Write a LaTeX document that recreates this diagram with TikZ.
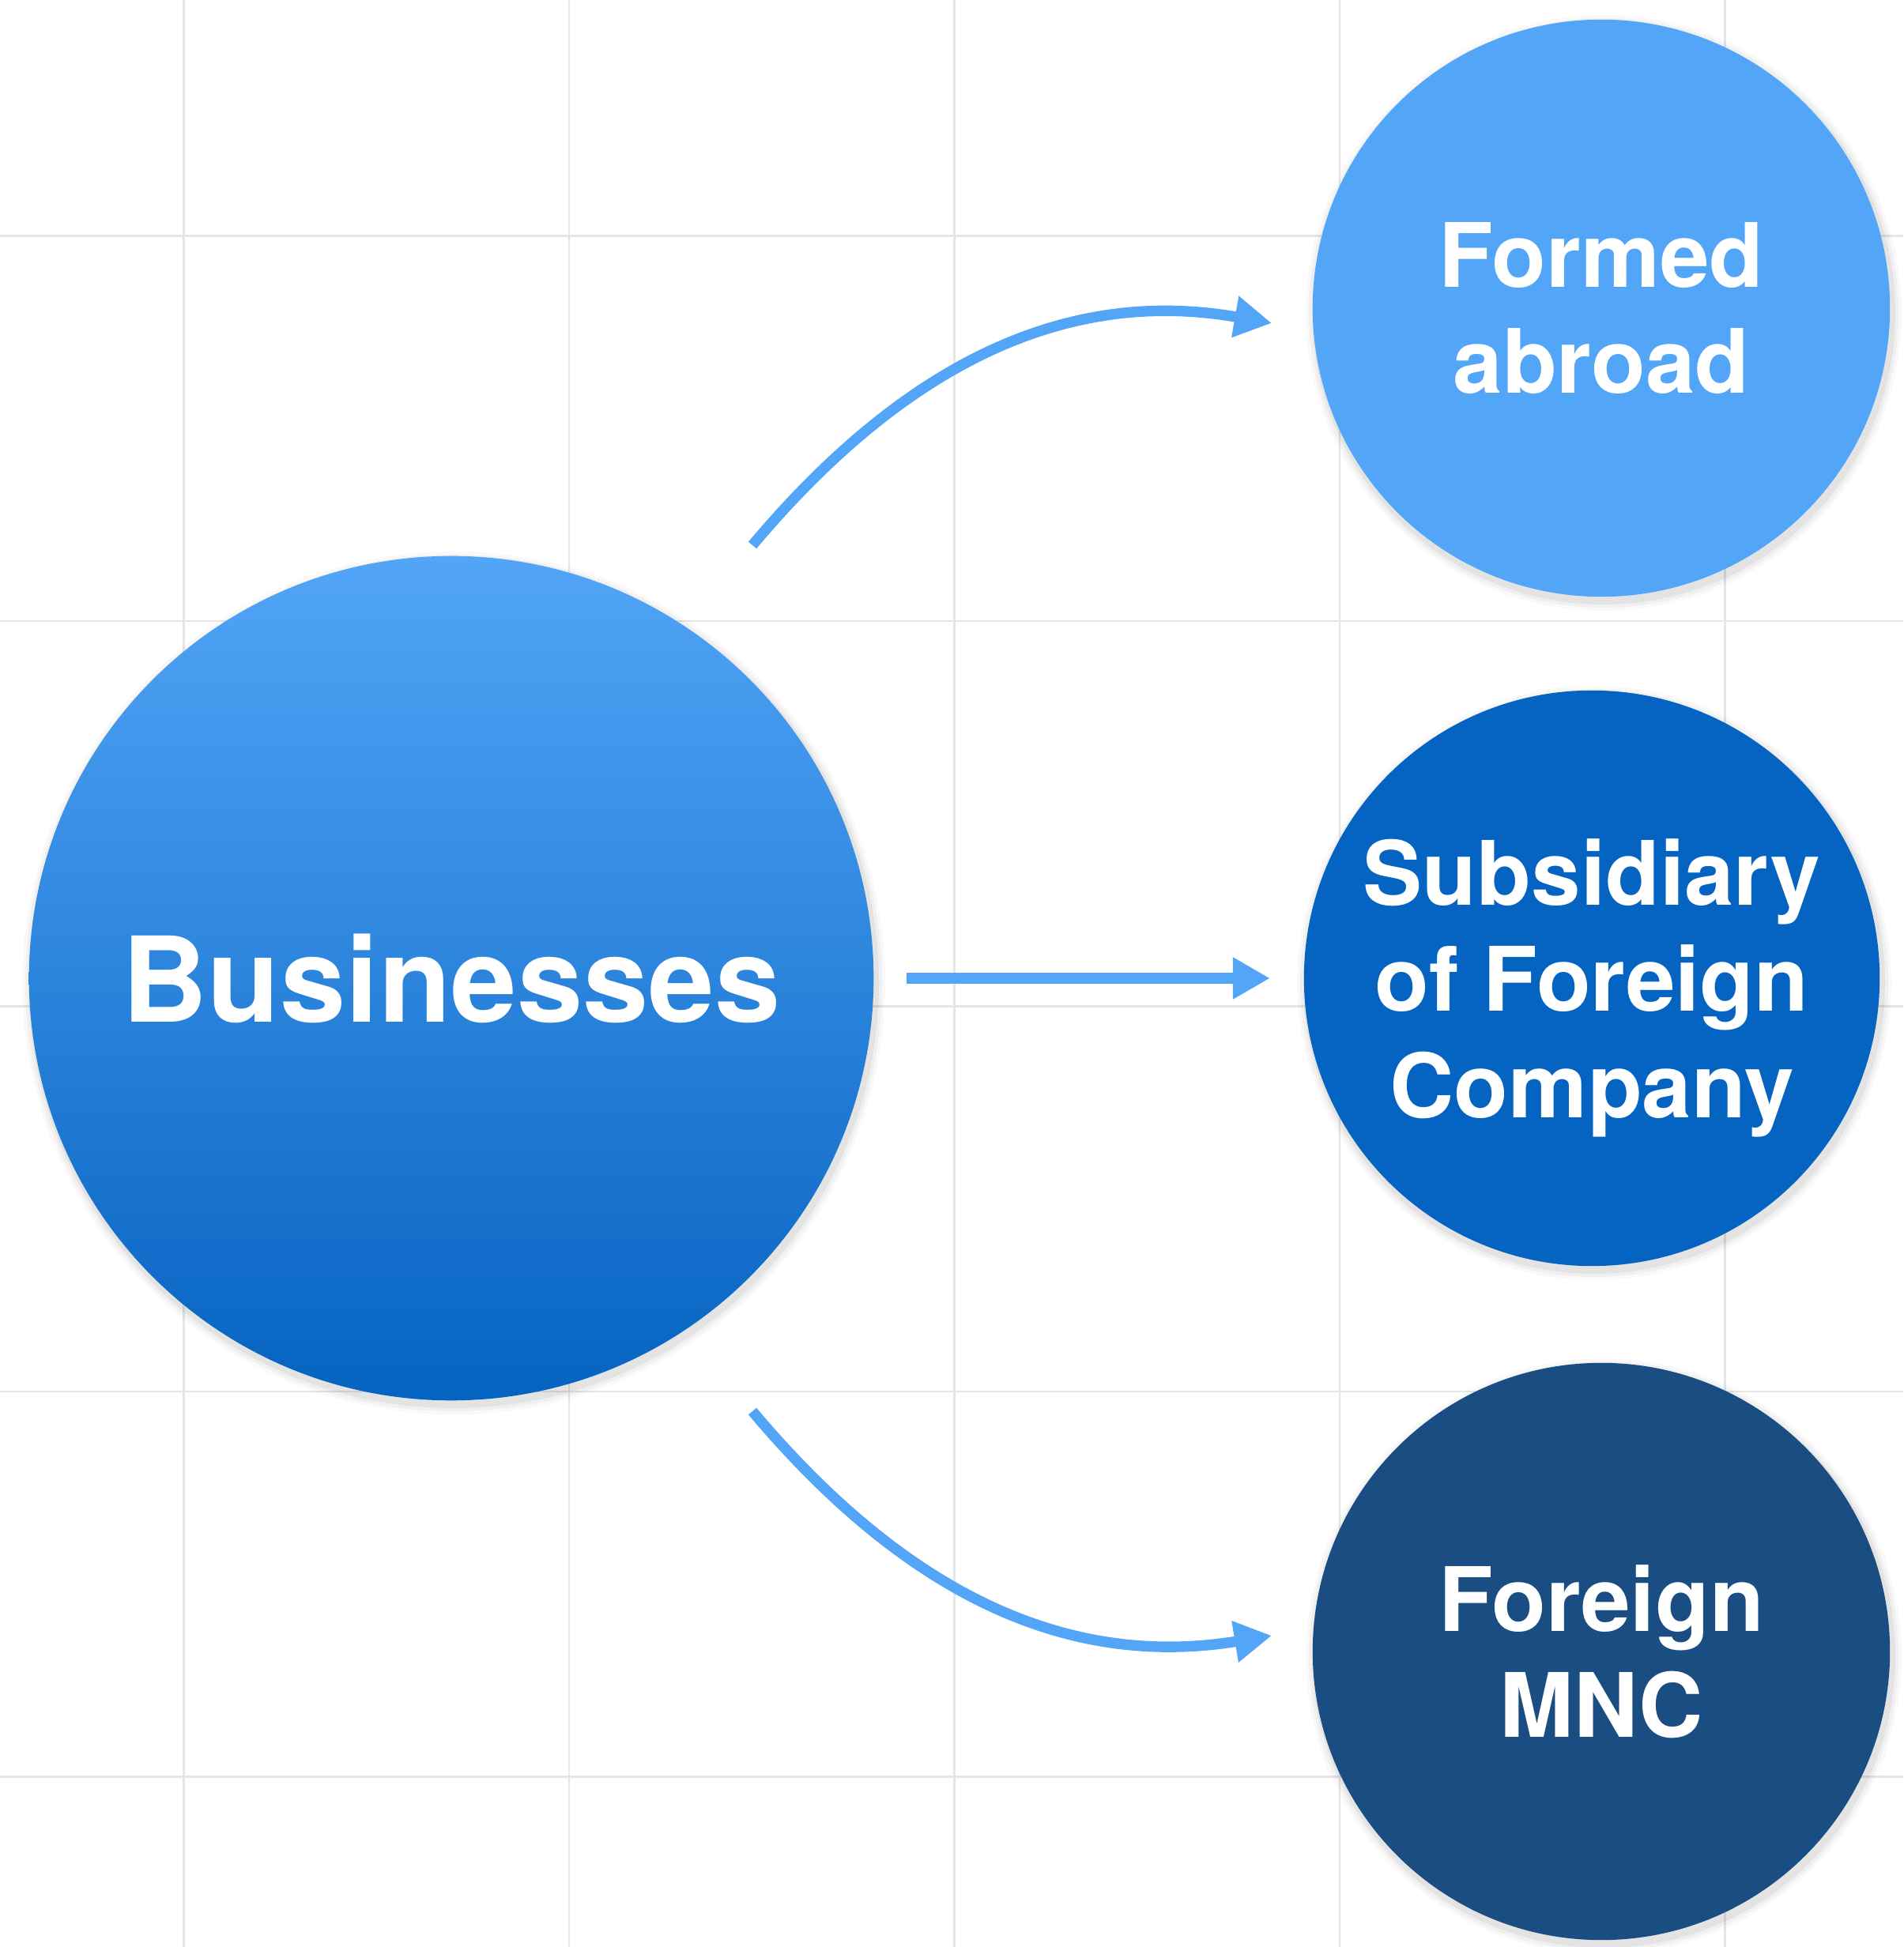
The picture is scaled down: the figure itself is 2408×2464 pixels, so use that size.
\documentclass[tikz,border=0pt]{standalone}
\usepackage{fontspec}
\setmainfont{TeX Gyre Heros}
\usetikzlibrary{arrows.meta,calc}
\definecolor{lightblue}{HTML}{52A5F7}
\definecolor{midblue}{HTML}{0563C1}
\definecolor{darkblue}{HTML}{1A4E83}
\definecolor{gridgray}{HTML}{E6E6E6}
\newcommand\softshadow[3]{%
  \foreach \d/\o in {12/0.025,8/0.035,4/0.05}{%
    \fill[black,opacity=\o] (#1+3,#2-6) circle ({#3+\d});}}
\begin{document}
\begin{tikzpicture}[x=0.01cm,y=0.01cm,
  bubble/.style={circle, inner sep=0pt, outer sep=0pt, text=white,
    font=\bfseries\fontsize{32}{38.2}\selectfont, align=center},
  conn/.style={color=lightblue, line width=3.8pt,
    -{Triangle[length=0.47cm,width=0.5cm,fill=lightblue]}},
  gridline/.style={draw=gridgray, line width=0.025cm}]
\useasboundingbox (0,0) rectangle (2408,2464);
\fill[white] (0,0) rectangle (2408,2464);
% background grid
\foreach \g in {232.6,720.1,1207.6,1695.1,2182.6}
  \draw[gridline] (\g,0) -- (\g,2464);
\foreach \g in {2165.4,1677.9,1190.4,702.9,215.4}
  \draw[gridline] (0,\g) -- (2408,\g);
% shadows
\softshadow{571}{1226}{534}
\softshadow{2026}{2074}{365}
\softshadow{2014}{1226}{364}
\softshadow{2026}{374}{365}
% circles
\node[bubble, minimum size=10.68cm, top color=lightblue, bottom color=midblue,
  font=\bfseries\fontsize{42.6}{50}\selectfont] (biz) at (571,1226) {Businesses};
\node[bubble, minimum size=7.30cm, fill=lightblue] (fa) at (2026,2074) {Formed\\abroad};
\node[bubble, minimum size=7.28cm, fill=midblue] (sub) at (2014,1226) {Subsidiary\\of Foreign\\\smash{Company}};
\node[bubble, minimum size=7.30cm, fill=darkblue] (mnc) at (2026,374) {Foreign\\MNC};
% connectors
\draw[conn, shorten <=0.42cm, shorten >=0.43cm] (biz) -- (sub);
\draw[conn] ($(biz.center)+(381,548)$)
  .. controls ($(biz.center)+(587,793)$) and ($(fa.center)+(-663,24)$)
  .. ($(fa.center)+(-417,-19)$);
\draw[conn] ($(biz.center)+(381,-548)$)
  .. controls ($(biz.center)+(587,-793)$) and ($(mnc.center)+(-663,-20)$)
  .. ($(mnc.center)+(-417,20)$);
\end{tikzpicture}
\end{document}
